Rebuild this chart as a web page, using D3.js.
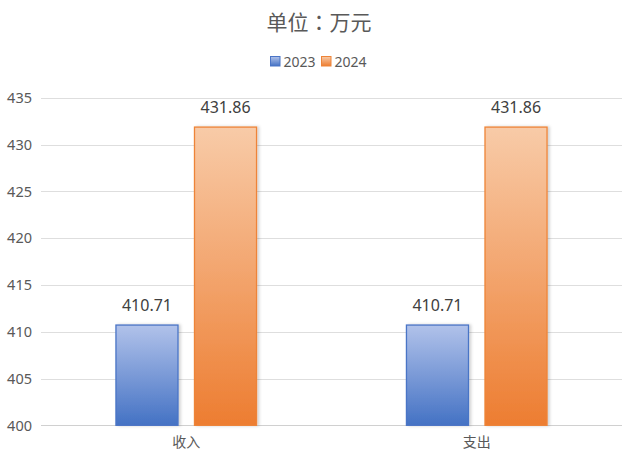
<!DOCTYPE html>
<html><head><meta charset="utf-8">
<script src="https://cdn.jsdelivr.net/npm/d3@7"></script>
<style>
html,body{margin:0;padding:0;background:#fff;}
text{font-family:"Noto Sans","Noto Sans CJK SC",sans-serif;}
</style></head>
<body><svg id="c" width="640" height="458"></svg>
<script>
const categories = ["收入", "支出"];
const seriesNames = ["2023", "2024"];
const values2023 = [410.71, 410.71];
const values2024 = [431.86, 431.86];
const yTicks = [400, 405, 410, 415, 420, 425, 430, 435];
const titleText = "单位：万元";

(function(){
const series = [values2023, values2024];
const colors = [
  {top:"#b1c2ea", bottom:"#4472c4", stroke:"#4a74c6"},
  {top:"#f8cba8", bottom:"#ed7d31", stroke:"#ee8438"}
];

const svg = d3.select("#c");
const pLeft = 41, pRight = 622, pTop = 97.7, pBottom = 425.3;

const defs = svg.append("defs");
colors.forEach((c,i)=>{
  const g = defs.append("linearGradient").attr("id","g"+i).attr("x1",0).attr("y1",0).attr("x2",0).attr("y2",1);
  g.append("stop").attr("offset","0%").attr("stop-color",c.top);
  g.append("stop").attr("offset","100%").attr("stop-color",c.bottom);
});
const f = defs.append("filter").attr("id","sh").attr("x","-20%").attr("y","-5%").attr("width","140%").attr("height","110%");
f.append("feDropShadow").attr("dx",2).attr("dy",0).attr("stdDeviation",1.5).attr("flood-color","#000").attr("flood-opacity",0.18);

const y = d3.scaleLinear().domain([400,435]).range([pBottom, pTop]);
const x0 = d3.scaleBand().domain(categories).range([pLeft, pRight]).paddingInner(0.516).paddingOuter(0.258);
const x1 = d3.scaleBand().domain(seriesNames).range([0, x0.bandwidth()]).paddingInner(0.21).paddingOuter(0);

svg.append("g").selectAll("line").data(yTicks).join("line")
  .attr("x1",pLeft).attr("x2",pRight)
  .attr("y1",d=>Math.round(y(d))+0.5).attr("y2",d=>Math.round(y(d))+0.5)
  .attr("stroke",d=>d===400?"#d0d0d0":"#dedede").attr("stroke-width",1);

svg.append("g").selectAll("text").data(yTicks).join("text")
  .attr("x",32).attr("y",d=>y(d)).attr("dy","0.36em")
  .attr("text-anchor","end").attr("font-size",14.5).attr("fill","#595959")
  .text(d=>d);

const groups = svg.append("g").selectAll("g").data(categories).join("g")
  .attr("transform",d=>`translate(${x0(d)},0)`);
seriesNames.forEach((s,si)=>{
  groups.append("rect")
    .attr("x",x1(s)).attr("width",x1.bandwidth())
    .attr("y",(d,ci)=>y(series[si][ci]))
    .attr("height",(d,ci)=>y(400)-y(series[si][ci]))
    .attr("fill",`url(#g${si})`).attr("stroke",colors[si].stroke).attr("stroke-width",1.3)
    .attr("filter","url(#sh)");
  groups.append("text")
    .attr("x",x1(s)+x1.bandwidth()/2)
    .attr("y",(d,ci)=>y(series[si][ci])-14)
    .attr("text-anchor","middle").attr("font-size",16).attr("fill","#404040")
    .text((d,ci)=>series[si][ci].toFixed(2));
});

svg.append("g").selectAll("text").data(categories).join("text")
  .attr("x",d=>x0(d)+x0.bandwidth()/2).attr("y",447)
  .attr("text-anchor","middle").attr("font-size",14).attr("fill","#595959")
  .text(d=>d);

svg.append("text").attr("x",319).attr("y",30).attr("text-anchor","middle")
  .style("font-family",'"Noto Sans CJK TC","Noto Sans CJK SC",sans-serif')
  .attr("font-size",21).attr("fill","#595959").text(titleText);

const lg = svg.append("g");
const legX = [270, 321];
seriesNames.forEach((s,i)=>{
  lg.append("rect").attr("x",legX[i]+0.5).attr("y",56.5).attr("width",9.5).attr("height",9.5)
    .attr("fill",`url(#g${i})`).attr("stroke",colors[i].stroke).attr("stroke-width",1);
  lg.append("text").attr("x",legX[i]+13.5).attr("y",61.5).attr("dy","0.36em")
    .attr("font-size",14).attr("fill","#595959").text(s);
});
})();
</script></body></html>
